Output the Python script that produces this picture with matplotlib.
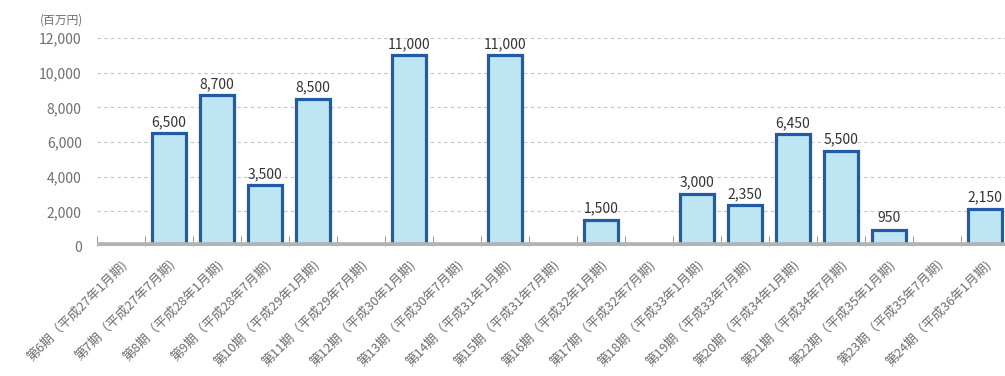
"""Bar chart of amounts by fiscal period (百万円)."""

import matplotlib

matplotlib.use("Agg")
import matplotlib.pyplot as plt
import numpy as np

plt.rcParams["font.family"] = ["Noto Sans CJK JP", "DejaVu Sans"]

PERIODS = [f"第{n}期" for n in range(6, 25)]
TERMS = [
    "平成27年1月期", "平成27年7月期", "平成28年1月期", "平成28年7月期",
    "平成29年1月期", "平成29年7月期", "平成30年1月期", "平成30年7月期",
    "平成31年1月期", "平成31年7月期", "平成32年1月期", "平成32年7月期",
    "平成33年1月期", "平成33年7月期", "平成34年1月期", "平成34年7月期",
    "平成35年1月期", "平成35年7月期", "平成36年1月期",
]
VALUES = [
    None, 6500, 8700, 3500, 8500, None, 11000, None, 11000, None,
    1500, None, 3000, 2350, 6450, 5500, 950, None, 2150,
]
Y_TICKS = [0, 2000, 4000, 6000, 8000, 10000, 12000]

FILL = "#bde5f3"
EDGE = "#1f5ba6"
GRAY_TEXT = "#6e6e6e"

W, H = 1005, 376
fig = plt.figure(figsize=(W / 100, H / 100), dpi=100)
ax = fig.add_axes([97 / W, (H - 246) / H, 912 / W, 208 / H])

labels = [f"{p}（{t})" for p, t in zip(PERIODS, TERMS)]
x = np.arange(len(labels))

for xi, v in zip(x, VALUES):
    if v is None:
        continue
    ax.bar(xi, v, width=0.7, color=FILL, edgecolor=EDGE, linewidth=2.3, zorder=2)
    ax.text(xi, v + 250, f"{v:,}", ha="center", va="bottom", fontsize=10,
            color="#333333", zorder=4)

ax.set_xlim(-0.5, len(labels) - 0.5)
ax.set_ylim(0, 12000)

ax.set_yticks(Y_TICKS)
ax.set_yticklabels([f"{t:,}" for t in Y_TICKS], fontsize=10, color=GRAY_TEXT)
ax.tick_params(axis="y", length=0, pad=11)
ax.yaxis.grid(True, color="#c4c4c4", linestyle=(0, (3, 3)), linewidth=0.8)
ax.set_axisbelow(True)

ax.set_xticks(x)
ax.set_xticklabels(labels, rotation=45, ha="right", va="top",
                   rotation_mode="anchor", fontsize=9.3, color=GRAY_TEXT)
ax.tick_params(axis="x", which="major", length=0, pad=8)
ax.set_xticks(np.arange(-0.5, len(labels), 1.0), minor=True)
ax.tick_params(axis="x", which="minor", direction="in", length=7.5, width=0.8,
               color="#9a9a9a")

for spine in ax.spines.values():
    spine.set_visible(False)

ax.axhline(0, color="#b3b3b3", linewidth=5.5, zorder=3, solid_capstyle="butt")

fig.text(83 / W, 1 - 20 / H, "(百万円)", ha="right", va="center",
         fontsize=8.5, color=GRAY_TEXT)

fig.savefig("out.png", dpi=100)
